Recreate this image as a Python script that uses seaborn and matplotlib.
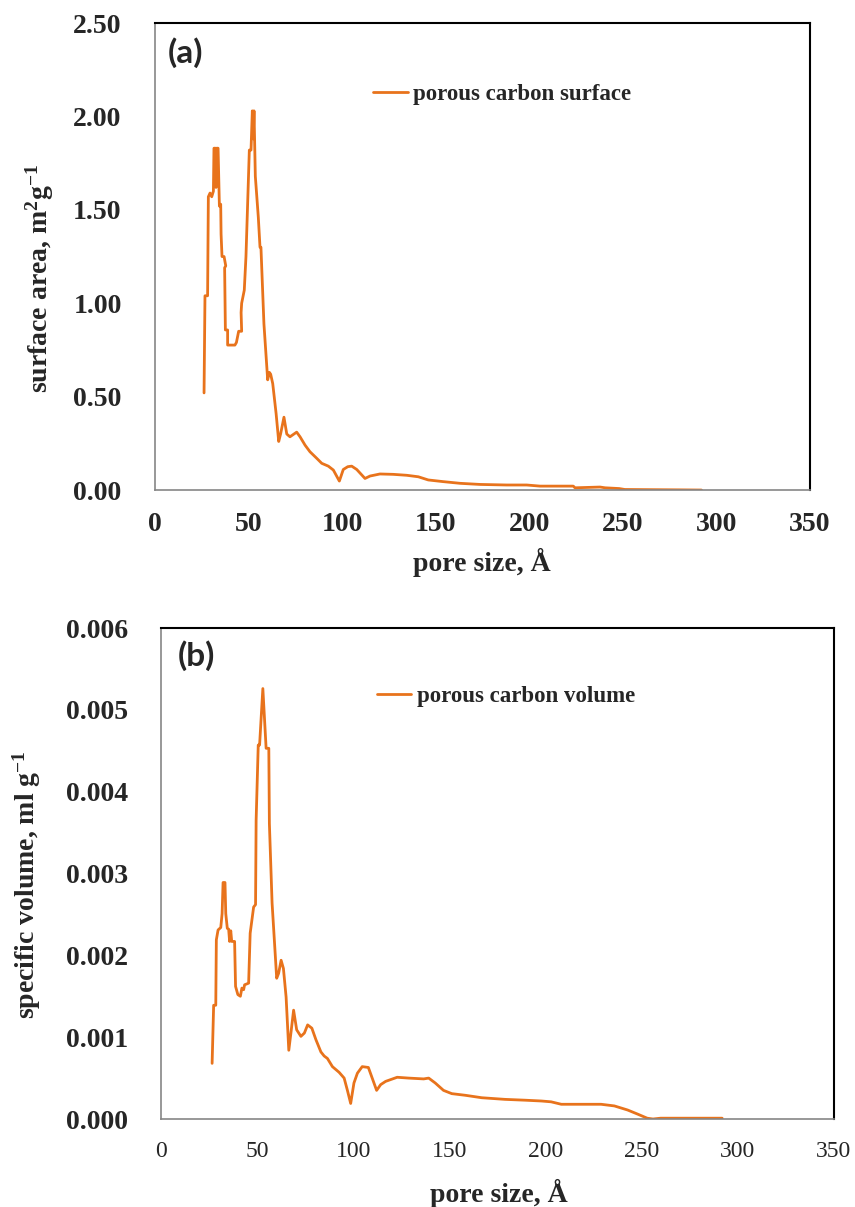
import numpy as np
import pandas as pd
import matplotlib
matplotlib.use("Agg")
import matplotlib.pyplot as plt
import seaborn as sns

# panel (a): pore size (A) vs surface area (m2/g)
pore_a = [26.2, 26.7, 28.1, 28.5, 29.4, 30.3, 31.2, 31.5, 32.3, 32.6, 32.9, 33.7,
          34.4, 35.1, 35.3, 35.8, 36.9, 37.8, 37.2, 37.6, 38.8, 38.8, 40.5, 42.7,
          43.5, 44.7, 46.3, 46.0, 46.3, 47.7, 48.6, 50.4, 51.3, 52.0, 52.5, 52.9,
          53.6, 55.2, 56.1, 56.6, 58.2, 60.2, 61.1, 61.8, 62.9, 64.7, 66.1, 67.1,
          68.9, 70.4, 72.1, 75.7, 77.5, 80.2, 82.8, 86.4, 89.1, 92.6, 95.3, 98.5,
          100.6, 103.0, 105.1, 107.8, 112.2, 114.9, 120.2, 127.3, 134.5, 140.7,
          146.0, 154.0, 163.0, 173.7, 187.9, 198.6, 205.7, 223.5, 224.4, 237.8,
          240.5, 248.0, 251.0, 265.0, 280.0, 292.0]
area_a = [0.52, 1.04, 1.04, 1.57, 1.59, 1.57, 1.60, 1.83, 1.83, 1.62, 1.83, 1.83,
          1.52, 1.53, 1.37, 1.25, 1.25, 1.20, 1.19, 0.857, 0.857, 0.776, 0.776, 0.776,
          0.79, 0.85, 0.85, 0.95, 1.00, 1.07, 1.25, 1.82, 1.82, 2.03, 1.88, 2.03,
          1.68, 1.46, 1.30, 1.30, 0.89, 0.59, 0.63, 0.62, 0.57, 0.41, 0.26, 0.30,
          0.39, 0.30, 0.285, 0.31, 0.285, 0.24, 0.205, 0.17, 0.143, 0.128, 0.107, 0.048,
          0.11, 0.125, 0.128, 0.11, 0.062, 0.075, 0.086, 0.084, 0.079, 0.071,
          0.054, 0.045, 0.036, 0.030, 0.027, 0.027, 0.021, 0.021, 0.012, 0.016,
          0.012, 0.008, 0.003, 0.002, 0.001, 0.0]

# panel (b): pore size (A) vs specific volume (ml/g)
pore_b = [26.6, 27.4, 28.5, 28.8, 29.7, 31.1, 31.8, 32.3, 33.3, 33.7, 34.5, 35.2,
          35.7, 36.3, 36.8, 38.3, 38.8, 40.0, 41.3, 42.1, 43.0, 43.5, 45.6, 46.4,
          48.2, 49.2, 49.5, 50.6, 51.3, 53.0, 54.7, 56.1, 56.4, 57.8, 60.2, 61.2,
          62.5, 63.7, 65.1, 66.5, 67.7, 69.0, 70.6, 72.8, 74.6, 76.3, 78.5, 80.6,
          83.2, 84.9, 86.6, 89.2, 92.7, 95.3, 97.0, 98.7, 100.4, 102.2, 104.7, 107.9,
          109.9, 112.2, 114.3, 116.9, 122.9, 128.9, 136.7, 139.3, 142.7, 147.0,
          151.3, 158.3, 166.9, 179.0, 189.3, 198.0, 203.0, 208.3, 213.5, 229.0,
          235.9, 242.8, 248.0, 253.0, 256.0, 260.0, 275.0, 292.0]
vol_b = [0.00068, 0.00139, 0.00139, 0.00219, 0.00231, 0.00234, 0.00251, 0.00289,
         0.00289, 0.00251, 0.00233, 0.00232, 0.00217, 0.00230, 0.00217, 0.00217,
         0.00162, 0.00152, 0.00150, 0.00160, 0.00158, 0.00164, 0.00166, 0.00227,
         0.00259, 0.00262, 0.00365, 0.00457, 0.00457, 0.00526, 0.00453, 0.00453,
         0.00361, 0.00264, 0.00172, 0.00178, 0.00194, 0.00184, 0.00149, 0.00084,
         0.00107, 0.00133, 0.00109, 0.00101, 0.00105, 0.00115, 0.00111, 0.00097,
         0.00082, 0.00077, 0.00074, 0.00064, 0.00057, 0.00050, 0.00035, 0.00019,
         0.00044, 0.00056, 0.00064, 0.00063, 0.00050, 0.00035, 0.00042, 0.00046,
         0.00051, 0.00050, 0.00049, 0.00050, 0.00044, 0.00035, 0.00031, 0.00029,
         0.00026, 0.00024, 0.00023, 0.00022, 0.00021, 0.00018, 0.00018, 0.00018,
         0.00016, 0.00011, 0.00006, 0.00001, 0.0, 0.00001, 0.00001, 0.00001]

x_ticks = [0, 50, 100, 150, 200, 250, 300, 350]
y_ticks_a = [0.0, 0.5, 1.0, 1.5, 2.0, 2.5]
y_ticks_b = [0.0, 0.001, 0.002, 0.003, 0.004, 0.005, 0.006]

sns.set_style("white")
plt.rcParams["font.family"] = ["Liberation Serif", "DejaVu Serif"]
plt.rcParams["font.weight"] = "bold"
plt.rcParams["mathtext.fontset"] = "custom"
plt.rcParams["mathtext.rm"] = "Liberation Serif:bold"
plt.rcParams["mathtext.bf"] = "Liberation Serif:bold"
plt.rcParams["mathtext.it"] = "Liberation Serif:bold:italic"

orange = "#E8731C"
gray = "#868686"

fig = plt.figure(figsize=(8.55, 12.07), dpi=100)
ax_a = fig.add_axes([0.1813, 0.5940, 0.7661, 0.3869])
ax_b = fig.add_axes([0.1883, 0.0729, 0.7867, 0.4068])

df_a = pd.DataFrame({"pore": pore_a, "area": area_a})
df_b = pd.DataFrame({"pore": pore_b, "vol": vol_b})

sns.lineplot(data=df_a, x="pore", y="area", ax=ax_a, color=orange, lw=2.0,
             sort=False, estimator=None, label="porous carbon surface")
sns.lineplot(data=df_b, x="pore", y="vol", ax=ax_b, color=orange, lw=2.0,
             sort=False, estimator=None, label="porous carbon volume")


def style_axes(ax, yticks, yfmt, x_bold, xsize):
    ax.set_xlim(0, 350)
    ax.set_ylim(yticks[0], yticks[-1])
    ax.set_xticks(x_ticks)
    ax.set_yticks(yticks)
    ax.set_xticklabels([str(t) for t in x_ticks], fontsize=xsize,
                       fontweight="bold" if x_bold else "normal")
    ax.set_yticklabels([yfmt.format(t) for t in yticks], fontsize=20, fontweight="bold")
    ax.tick_params(axis="both", direction="in", length=7, width=1, color=gray)
    ax.tick_params(axis="x", pad=16)
    ax.tick_params(axis="y", pad=24)
    for side in ["left", "bottom"]:
        ax.spines[side].set_color(gray)
        ax.spines[side].set_linewidth(1.2)
    for side in ["top", "right"]:
        ax.spines[side].set_color("black")
        ax.spines[side].set_linewidth(1.5)
    ax.set_xlabel("")
    ax.set_ylabel("")


style_axes(ax_a, y_ticks_a, "{:.2f}", True, 20)
style_axes(ax_b, y_ticks_b, "{:.3f}", False, 17)

ax_a.legend(loc="center left", bbox_to_anchor=(0.333, 0.848), frameon=False,
            borderaxespad=0, borderpad=0, handlelength=1.5, handletextpad=0.25,
            prop={"family": "Liberation Serif", "weight": "bold", "size": 16.5})
ax_b.legend(loc="center left", bbox_to_anchor=(0.321, 0.8615), frameon=False,
            borderaxespad=0, borderpad=0, handlelength=1.5, handletextpad=0.25,
            prop={"family": "Liberation Serif", "weight": "bold", "size": 16.5})

ax_a.text(0.02, 0.936, "(a)", transform=ax_a.transAxes, fontsize=24,
          fontweight="bold", family=["Lato", "DejaVu Sans"], va="center", ha="left")
ax_b.text(0.025, 0.943, "(b)", transform=ax_b.transAxes, fontsize=24,
          fontweight="bold", family=["Lato", "DejaVu Sans"], va="center", ha="left")

fig.text(482 / 855, 1 - 562 / 1207, "pore size, Å", fontsize=20, fontweight="bold",
         ha="center", va="center")
fig.text(499 / 855, 1 - 1193 / 1207, "pore size, Å", fontsize=20, fontweight="bold",
         ha="center", va="center")
fig.text(40 / 855, 1 - 278 / 1207, "surface area, m$^{2}$g$^{-1}$", fontsize=20,
         fontweight="bold", rotation=90, ha="center", va="center")
fig.text(27 / 855, 1 - 885 / 1207, "specific volume, ml g$^{-1}$", fontsize=20,
         fontweight="bold", rotation=90, ha="center", va="center")

fig.savefig("out.png", dpi=100)
